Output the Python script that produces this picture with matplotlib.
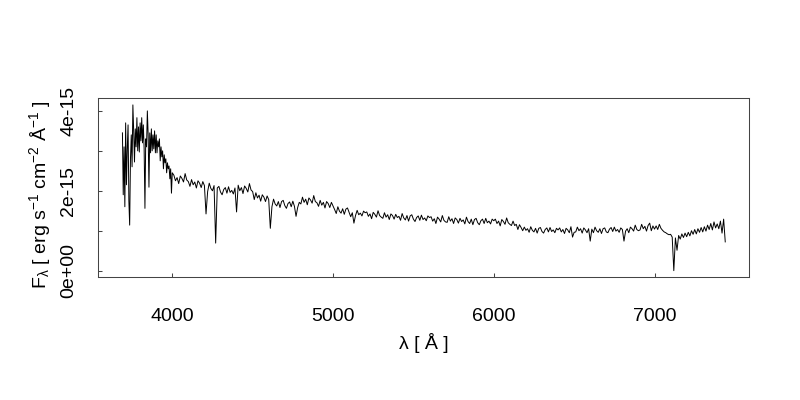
import numpy as np
import matplotlib
matplotlib.use("Agg")
import matplotlib.pyplot as plt

plt.rcParams['font.family'] = ['Liberation Sans', 'DejaVu Sans']
plt.rcParams['mathtext.default'] = 'regular'

# wavelength grid (Angstrom): finer in the noisy blue end
wave_blue = np.arange(3690, 4001, 5)
wave_red = np.arange(4010, 7441, 10)

# flux in units of 1e-15 erg/s/cm2/A
flux_blue = [
    3.45, 1.90, 3.10, 1.60, 3.70, 2.15, 3.05, 3.65, 1.75, 1.14,
    2.80, 3.40, 2.60, 4.15, 3.50, 2.72, 3.55, 3.10, 3.83, 3.00,
    3.60, 2.97, 3.70, 3.25, 3.83, 3.20, 3.65, 3.05, 1.56, 3.30,
    3.10, 4.00, 3.40, 2.09, 3.45, 2.95, 3.55, 3.00, 3.40, 3.05,
    3.50, 2.95, 3.40, 2.95, 3.25, 3.10, 3.30, 2.75, 3.10, 2.85,
    3.00, 2.55, 2.90, 2.70, 2.80, 2.45, 2.70, 2.55, 2.62, 2.30,
    2.55, 1.94, 2.45,
]
flux_red = [
    2.39, 2.25, 2.33, 2.18, 2.37, 2.31, 2.22, 2.43, 2.27, 2.23,  # 4010
    2.11, 2.28, 2.15, 2.22, 2.07, 2.25, 2.19, 2.08, 2.23, 2.13,  # 4110
    1.42, 1.98, 2.19, 2.06, 2.00, 2.13, 0.69, 2.07, 2.11, 1.97,  # 4210
    1.90, 2.03, 2.08, 1.94, 2.10, 1.96, 2.01, 1.92, 2.07, 1.47,  # 4310
    2.14, 2.00, 2.08, 1.93, 2.12, 2.06, 1.97, 2.18, 2.02, 1.98,  # 4410
    1.78, 1.95, 1.82, 1.89, 1.74, 1.90, 1.84, 1.73, 1.87, 1.78,  # 4510
    1.06, 1.60, 1.79, 1.67, 1.62, 1.73, 1.58, 1.73, 1.76, 1.63,  # 4610
    1.56, 1.68, 1.72, 1.60, 1.74, 1.61, 1.36, 1.58, 1.71, 1.67,  # 4710
    1.84, 1.71, 1.79, 1.65, 1.82, 1.77, 1.69, 1.88, 1.73, 1.70,  # 4810
    1.61, 1.76, 1.64, 1.71, 1.57, 1.73, 1.68, 1.58, 1.71, 1.62,  # 4910
    1.53, 1.43, 1.60, 1.49, 1.44, 1.55, 1.41, 1.54, 1.57, 1.46,  # 5010
    1.35, 1.45, 1.19, 1.38, 1.51, 1.40, 1.44, 1.37, 1.49, 1.45,  # 5110
    1.47, 1.36, 1.42, 1.30, 1.46, 1.41, 1.34, 1.50, 1.38, 1.34,  # 5210
    1.31, 1.45, 1.34, 1.40, 1.28, 1.42, 1.38, 1.29, 1.41, 1.33,  # 5310
    1.36, 1.26, 1.43, 1.32, 1.27, 1.38, 1.24, 1.37, 1.40, 1.29,  # 5410
    1.23, 1.33, 1.37, 1.26, 1.39, 1.28, 1.32, 1.25, 1.37, 1.33,  # 5510
    1.35, 1.24, 1.30, 1.18, 1.34, 1.29, 1.22, 1.38, 1.26, 1.22,  # 5610
    1.21, 1.35, 1.24, 1.30, 1.18, 1.32, 1.28, 1.19, 1.31, 1.23,  # 5710
    1.27, 1.17, 1.34, 1.23, 1.18, 1.29, 1.15, 1.28, 1.31, 1.20,  # 5810
    1.15, 1.25, 1.29, 1.18, 1.31, 1.20, 1.24, 1.17, 1.29, 1.25,  # 5910
    1.29, 1.18, 1.24, 1.12, 1.28, 1.23, 1.16, 1.32, 1.20, 1.16,  # 6010
    1.13, 1.24, 1.13, 1.16, 1.03, 1.15, 1.08, 1.00, 1.09, 1.01,  # 6110
    1.05, 0.96, 1.10, 1.01, 0.97, 1.06, 0.94, 1.06, 1.08, 0.98,  # 6210
    0.94, 1.03, 1.07, 0.97, 1.08, 0.98, 1.02, 0.95, 1.06, 1.02,  # 6310
    1.07, 0.97, 1.03, 0.93, 1.06, 1.02, 0.95, 1.10, 0.84, 0.96,  # 6410
    0.97, 1.09, 1.00, 1.05, 0.94, 1.07, 1.02, 0.95, 1.05, 0.74,  # 6510
    1.04, 0.95, 1.09, 1.00, 0.96, 1.05, 0.93, 1.05, 1.07, 0.97,  # 6610
    0.95, 1.04, 1.08, 0.98, 1.09, 0.99, 1.03, 0.96, 1.07, 1.03,  # 6710
    0.74, 0.99, 1.05, 0.95, 1.09, 1.05, 0.99, 1.14, 1.03, 1.00,  # 6810
    1.02, 1.16, 1.05, 1.11, 0.99, 1.13, 1.19, 1.00, 1.12, 1.04,  # 6910
    1.12, 1.03, 1.16, 1.06, 1.01, 0.97, 0.95, 0.92, 0.90, 0.91,  # 7010
    0.84, 0.00, 0.82, 0.51, 0.88, 0.79, 0.92, 0.83, 0.94, 0.85,  # 7110
    0.96, 0.87, 1.00, 0.91, 1.03, 0.92, 1.05, 0.96, 1.08, 0.97,  # 7210
    1.10, 0.99, 1.14, 1.03, 1.18, 1.02, 1.22, 1.07, 1.17, 1.05,  # 7310
    1.24, 0.94, 1.29, 0.72,                                      # 7410
]

wave = np.concatenate([wave_blue, wave_red])
flux = np.array(flux_blue + flux_red) * 1e-15

ytick_vals = [0, 1e-15, 2e-15, 3e-15, 4e-15]
ytick_labels = ["0e+00", "", "2e-15", "", "4e-15"]
xtick_vals = [4000, 5000, 6000, 7000]

fig = plt.figure(figsize=(8, 4), dpi=100)
ax = fig.add_axes([0.1229, 0.3068, 0.8138, 0.4475])

ax.plot(wave, flux, color="black", lw=0.7)
ax.margins(0.04)

ax.set_xticks(xtick_vals)
ax.set_yticks(ytick_vals, labels=ytick_labels)
ax.tick_params(direction="in", length=3, width=0.75, color="#444444",
               labelsize=14, top=False, right=False)
ax.tick_params(axis="x", pad=22)
ax.tick_params(axis="y", pad=15)
plt.setp(ax.get_yticklabels(), rotation=90, va="center")

for s in ax.spines.values():
    s.set_color("#444444")
    s.set_linewidth(0.75)

ax.set_xlabel("λ [ Å ]", fontsize=14)
ax.xaxis.set_label_coords(0.5, -0.31)
ax.set_ylabel("F$_{λ}$ [ erg s$^{-1}$ cm$^{-2}$ Å$^{-1}$ ]", fontsize=14)
ax.yaxis.set_label_coords(-0.069, 0.46)

fig.savefig("out.png", dpi=100)
